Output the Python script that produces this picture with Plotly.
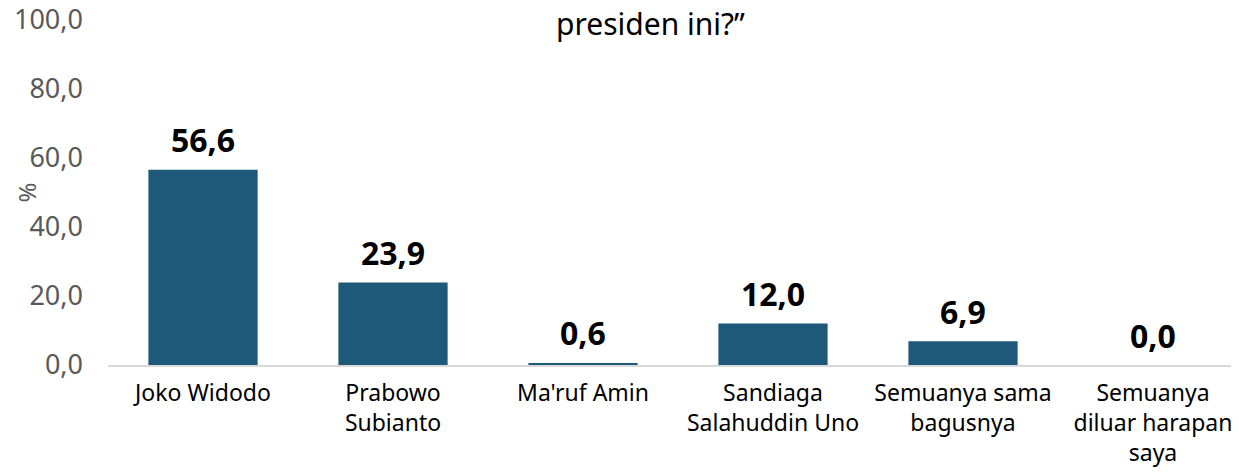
import plotly.graph_objects as go

categories = ["Joko Widodo", "Prabowo<br>Subianto", "Ma'ruf Amin",
              "Sandiaga<br>Salahuddin Uno", "Semuanya sama<br>bagusnya",
              "Semuanya<br>diluar harapan<br>saya"]
values = [56.6, 23.9, 0.6, 12.0, 6.9, 0.0]
y_ticks = [0, 20, 40, 60, 80, 100]
title_text = "presiden ini?\u201d"
y_title = "%"

FONT = "Noto Sans"
BAR = "#1F597A"

# page has an 8px body margin on every side; size the figure so nothing overflows
W, H = 1223, 460
L, T, B, R = 100, 12, 103, 0
PW = W - L - R

fig = go.Figure()
fig.add_trace(go.Bar(
    x=list(range(len(categories))), y=values, width=0.575,
    marker=dict(color=BAR, line=dict(width=0)),
    hoverinfo="skip",
))

for i, v in enumerate(values):
    fig.add_annotation(x=i, y=v, text=f"<b>{v:.1f}</b>".replace(".", ","),
                       showarrow=False, yanchor="middle", yshift=30,
                       font=dict(family=FONT, size=32, color="#000000"))

fig.add_annotation(x=(642 - L) / PW, xref="paper", y=1.0, yref="paper",
                   xanchor="center", yanchor="middle", yshift=-3,
                   text=title_text, showarrow=False,
                   font=dict(family=FONT, size=30, color="#000000"))

fig.add_annotation(x=(18 - L) / PW, xref="paper", y=0.5, yref="paper",
                   xanchor="center", yanchor="middle", textangle=-90,
                   text=y_title, showarrow=False,
                   font=dict(family=FONT, size=24, color="#595959"))

fig.update_layout(
    width=W, height=H,
    margin=dict(l=L, r=R, t=T, b=B, autoexpand=False),
    plot_bgcolor="white", paper_bgcolor="white",
    separators=",.",
    showlegend=False,
    font=dict(family=FONT),
    xaxis=dict(
        range=[-0.5, -0.5 + PW / 190.0], automargin=False,
        tickmode="array", tickvals=list(range(len(categories))), ticktext=categories,
        tickfont=dict(family=FONT, size=23, color="#000000"),
        ticklabelstandoff=7, ticklabeloverflow="allow",
        showline=True, linecolor="#D9D9D9", linewidth=1.5,
        showgrid=False, zeroline=False, ticks="", fixedrange=True,
    ),
    yaxis=dict(
        range=[0, 100], tickvals=y_ticks, tickformat=".1f", automargin=False,
        tickfont=dict(family=FONT, size=27, color="#595959"),
        ticklabelstandoff=24, ticklabeloverflow="allow",
        showline=False, showgrid=False, zeroline=False, ticks="",
    ),
)

fig.write_html("out.html")
